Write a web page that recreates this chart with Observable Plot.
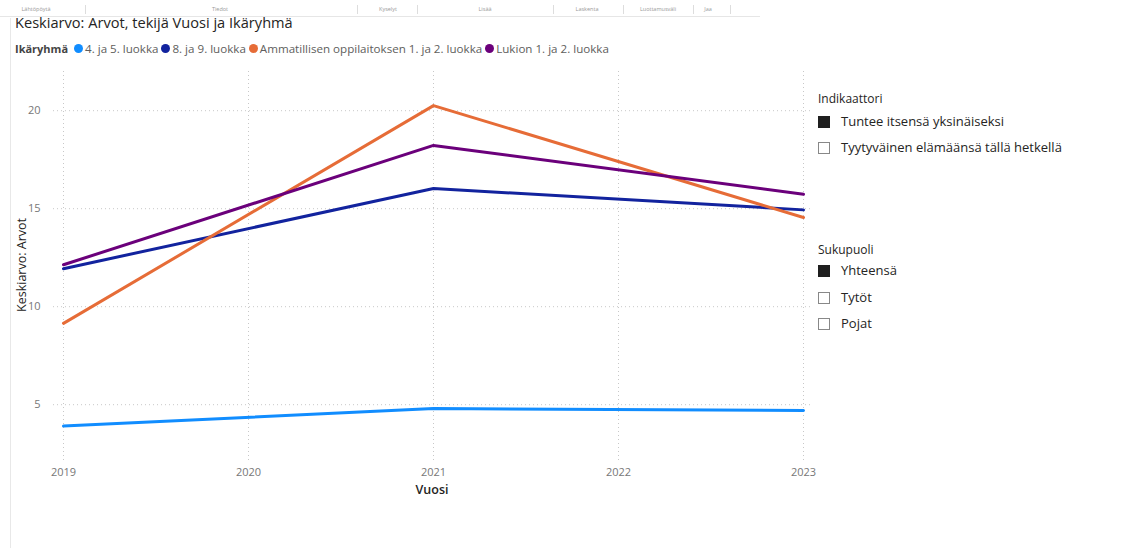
<!DOCTYPE html>
<html>
<head>
<meta charset="utf-8">
<script src="https://cdn.jsdelivr.net/npm/d3@7"></script>
<script src="https://cdn.jsdelivr.net/npm/@observablehq/plot@0.6"></script>
<style>
  html, body { margin: 0; padding: 0; background: #fff; }
  body { width: 1142px; height: 548px; position: relative; overflow: hidden; font-family: "Open Sans", "Noto Sans", sans-serif; color: #252423; }
  .abs { position: absolute; white-space: nowrap; }
  #topbar { position: absolute; left: 0; top: 0; width: 760px; height: 16px; border-bottom: 1px solid #e6e6e6; }
  .tb { position: absolute; top: 5px; font-size: 5.5px; color: #999; transform: translateX(-50%); }
  .tbs { position: absolute; top: 5px; width: 1px; height: 9px; background: #ddd; }
  #leftline { position: absolute; left: 10px; top: 18px; width: 1px; height: 530px; background: #e8e8e8; }
  #title { left: 15px; top: 12px; font-size: 14.6px; color: #252423; }
  #legend { left: 15px; top: 41px; font-size: 11.6px; color: #605e5c; display: flex; align-items: center; }
  #legend b { color: #444; margin-right: 6px; font-weight: 700; font-size: 11px; }
  .li { display: flex; align-items: center; margin-right: 3px; }
  .dot { width: 9px; height: 9px; border-radius: 50%; margin-right: 2px; display: inline-block; }
  .ph { font-size: 12px; color: #252423; }
  .cb { position: absolute; width: 12px; height: 12px; box-sizing: border-box; border: 1px solid #888; background: #fff; }
  .cb.on { background: #1f1f1f; border-color: #1f1f1f; }
  .cl { font-size: 13px; color: #252423; }
  #chart { position: absolute; left: 0; top: 60px; }
</style>
</head>
<body>
<div id="topbar"></div>
<div id="leftline"></div>
<div id="title" class="abs"></div>
<div id="legend" class="abs"></div>
<div id="panel"></div>
<div id="chart"></div>
<script>
// ---- data ----
const years = [2019, 2021, 2023];
const groups = ["4. ja 5. luokka", "8. ja 9. luokka", "Ammatillisen oppilaitoksen 1. ja 2. luokka", "Lukion 1. ja 2. luokka"];
const colors = ["#118DFF", "#12239E", "#E66C37", "#6B007B"];
const vals45 = [3.91, 4.80, 4.70];
const vals89 = [11.94, 16.03, 14.94];
const valsAmm = [9.15, 20.26, 14.55];
const valsLuk = [12.14, 18.23, 15.74];
const xTicks = [2019, 2020, 2021, 2022, 2023];
const yTicks = [5, 10, 15, 20];
const titleText = "Keskiarvo: Arvot, tekijä Vuosi ja Ikäryhmä";
const legendTitle = "Ikäryhmä";
const xLabel = "Vuosi";
const yLabel = "Keskiarvo: Arvot";
const menuItems = ["Lähtöpöytä", "Tiedot", "Kyselyt", "Lisää", "Laskenta", "Luottamusväli", "Jaa"];
const indTitle = "Indikaattori";
const indItems = ["Tuntee itsensä yksinäiseksi", "Tyytyväinen elämäänsä tällä hetkellä"];
const indOn = [true, false];
const sexTitle = "Sukupuoli";
const sexItems = ["Yhteensä", "Tytöt", "Pojat"];
const sexOn = [true, false, false];

const series = [vals45, vals89, valsAmm, valsLuk];
const rows = [];
groups.forEach((g, i) => years.forEach((y, j) => rows.push({group: g, year: y, value: series[i][j]})));

// ---- top menu bar (faint) ----
const tb = document.getElementById("topbar");
const menuX = [36, 220, 388, 485, 587, 658, 708];
const sepX = [85, 357, 417, 553, 623, 693, 730];
menuItems.forEach((m, i) => {
  const s = document.createElement("span"); s.className = "tb"; s.style.left = menuX[i] + "px"; s.textContent = m; tb.appendChild(s);
});
sepX.forEach(x => { const d = document.createElement("div"); d.className = "tbs"; d.style.left = x + "px"; tb.appendChild(d); });

// ---- title & legend ----
document.getElementById("title").textContent = titleText;
const lg = document.getElementById("legend");
const b = document.createElement("b"); b.textContent = legendTitle; lg.appendChild(b);
groups.forEach((g, i) => {
  const it = document.createElement("span"); it.className = "li";
  const d = document.createElement("span"); d.className = "dot"; d.style.background = colors[i];
  const t = document.createElement("span"); t.textContent = g;
  it.appendChild(d); it.appendChild(t); lg.appendChild(it);
});

// ---- right slicer panel ----
const panel = document.getElementById("panel");
function addHeader(text, top) {
  const h = document.createElement("div"); h.className = "abs ph"; h.style.left = "818px"; h.style.top = top + "px"; h.textContent = text; panel.appendChild(h);
}
function addItem(text, on, top) {
  const c = document.createElement("div"); c.className = "cb" + (on ? " on" : ""); c.style.left = "818px"; c.style.top = (top + 4) + "px"; panel.appendChild(c);
  const l = document.createElement("div"); l.className = "abs cl"; l.style.left = "841px"; l.style.top = (top) + "px"; l.textContent = text; panel.appendChild(l);
}
addHeader(indTitle, 90);
indItems.forEach((t, i) => addItem(t, indOn[i], 112 + i * 26));
addHeader(sexTitle, 241);
sexItems.forEach((t, i) => addItem(t, sexOn[i], 261 + i * 26.5));

// ---- chart ----
const chart = Plot.plot({
  width: 830,
  height: 453,
  marginTop: 11,
  marginBottom: 50,
  marginLeft: 53,
  marginRight: 20,
  style: {fontFamily: "'Open Sans', 'Noto Sans', sans-serif", fontSize: "11px", color: "#777", background: "transparent"},
  x: {domain: [2019, 2023], insetLeft: 10, insetRight: 7, ticks: xTicks, tickFormat: d => String(d), label: null},
  y: {domain: [2, 22], ticks: yTicks, label: null},
  color: {domain: groups, range: colors},
  marks: [
    Plot.gridX(xTicks, {stroke: "#c8c8c8", strokeOpacity: 1, strokeDasharray: "1,3"}),
    Plot.gridY(yTicks, {stroke: "#c8c8c8", strokeOpacity: 1, strokeDasharray: "1,3"}),
    Plot.axisX(xTicks, {tickSize: 0, tickPadding: 5, tickFormat: d => String(d), fill: "#777", label: xLabel, labelAnchor: "center", labelOffset: 30, labelArrow: "none"}),
    Plot.axisY(yTicks, {tickSize: 0, tickPadding: 13, fill: "#777", label: null}),
    Plot.line(rows, {x: "year", y: "value", z: "group", stroke: "group", strokeWidth: 3, curve: "linear"})
  ]
});
document.getElementById("chart").appendChild(chart);

// style axis labels (dark, bold-ish)
const svg = d3.select(chart);
svg.selectAll("[aria-label='x-axis label'] text").attr("fill", "#252423").style("font-size", "12.5px").style("font-weight", "600");
// y axis title
svg.append("text")
  .attr("transform", "translate(26,205) rotate(-90)")
  .attr("text-anchor", "middle")
  .attr("fill", "#252423")
  .style("font-size", "12.5px")
  .text(yLabel);
</script>
</body>
</html>
